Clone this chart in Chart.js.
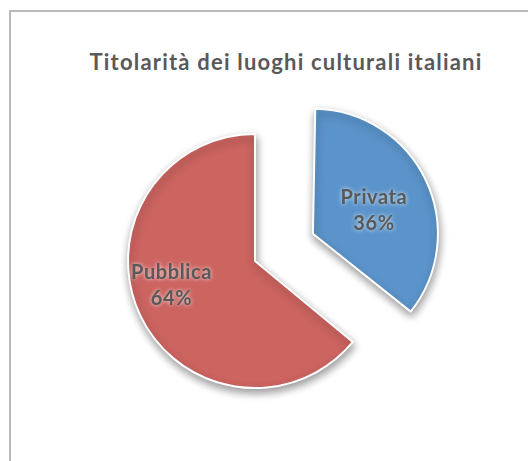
<!DOCTYPE html>
<html>
<head>
<meta charset="utf-8">
<script src="https://cdn.jsdelivr.net/npm/chart.js@4"></script>
<style>
  html, body { margin: 0; padding: 0; background: #fff; overflow: hidden; }
  #frame {
    position: absolute; left: 9px; top: 10px; width: 560px; height: 500px;
    border: 2px solid #b9b9b9; box-sizing: border-box;
  }
  #title {
    position: absolute; left: 0; top: 48px; width: 572px; text-align: center;
    font: bold 22px Lato, sans-serif; letter-spacing: 1.2px; color: #595959;
  }
  #wrap { position: absolute; left: 0; top: 0; width: 528px; height: 461px; }
</style>
</head>
<body>
<div id="frame"></div>
<div id="title">Titolarità dei luoghi culturali italiani</div>
<div id="wrap"><canvas id="pieChartCanvas"></canvas></div>
<script>
let categories = ["Privata", "Pubblica"];
let shares = [36, 64];
let sliceColors = ["#5b94cb", "#cc6460"];
let explode = [256, 0];

const PIE_RADIUS = 127;

// how far each label sits from its slice centre (fraction of radius) and angle tweak (rad)
let labelPlace = [
  { r: 0.515, turn: 0.072 },
  { r: 0.685, turn: 0.154 },
];

// Chart.js grows an exploded arc by (offset / 4) * (1 - sin(circumference));
// take that back so the pulled-out slice keeps about the same radius
let keepRadiusPlugin = {
  id: "keepRadius",
  afterDatasetUpdate(chart, args) {
    args.meta.data.forEach((arc, i) => {
      if (!explode[i]) return;
      let circ = arc.endAngle - arc.startAngle;
      let grow = (explode[i] / 4) * (1 - Math.sin(Math.min(Math.PI, circ)));
      arc.outerRadius = PIE_RADIUS - grow - 2;
    });
  },
};

let shadowPlugin = {
  id: "sliceShadow",
  beforeDatasetsDraw(chart) {
    let ctx = chart.ctx;
    ctx.save();
    ctx.shadowColor = "rgba(0, 0, 0, 0.4)";
    ctx.shadowBlur = 8;
    ctx.shadowOffsetX = 1;
    ctx.shadowOffsetY = 4;
  },
  afterDatasetsDraw(chart) {
    chart.ctx.restore();
  },
};

let labelPlugin = {
  id: "sliceLabels",
  afterDraw(chart) {
    let ctx = chart.ctx;
    let meta = chart.getDatasetMeta(0);
    ctx.save();
    ctx.font = "bold 20px Lato, sans-serif";
    ctx.letterSpacing = "0.6px";
    ctx.textAlign = "center";
    ctx.textBaseline = "middle";
    meta.data.forEach((arc, i) => {
      let p = arc.getProps(["x", "y", "startAngle", "endAngle"], true);
      let half = (p.startAngle + p.endAngle) / 2;
      // the arc element shifts an exploded slice by offset / 4 along its mid angle
      let ox = p.x + Math.cos(half) * explode[i] / 4;
      let oy = p.y + Math.sin(half) * explode[i] / 4;
      let mid = half + labelPlace[i].turn;
      let d = PIE_RADIUS * labelPlace[i].r;
      let cx = ox + Math.cos(mid) * d;
      let cy = oy + Math.sin(mid) * d;
      let lines = [categories[i], shares[i] + "%"];
      lines.forEach((t, k) => {
        let y = cy + (k - 0.5) * 26;
        ctx.shadowColor = "rgba(255, 255, 255, 0.8)";
        ctx.shadowBlur = 4;
        ctx.fillStyle = "#595959";
        ctx.fillText(t, cx, y);
      });
    });
    ctx.restore();
  },
};

let ctx_pie = document.querySelector("#pieChartCanvas").getContext("2d");

new Chart(ctx_pie, {
  type: "pie",
  data: {
    labels: categories,
    datasets: [
      {
        data: shares,
        backgroundColor: sliceColors,
        borderColor: "#ffffff",
        borderWidth: 2,
        offset: explode,
        clip: false,
      },
    ],
  },
  options: {
    responsive: true,
    maintainAspectRatio: false,
    animation: false,
    radius: PIE_RADIUS,
    layout: { padding: { top: 61, bottom: 0, left: 0, right: 18 } },
    plugins: {
      legend: { display: false },
      tooltip: { enabled: false },
    },
  },
  plugins: [keepRadiusPlugin, shadowPlugin, labelPlugin],
});
</script>
</body>
</html>
